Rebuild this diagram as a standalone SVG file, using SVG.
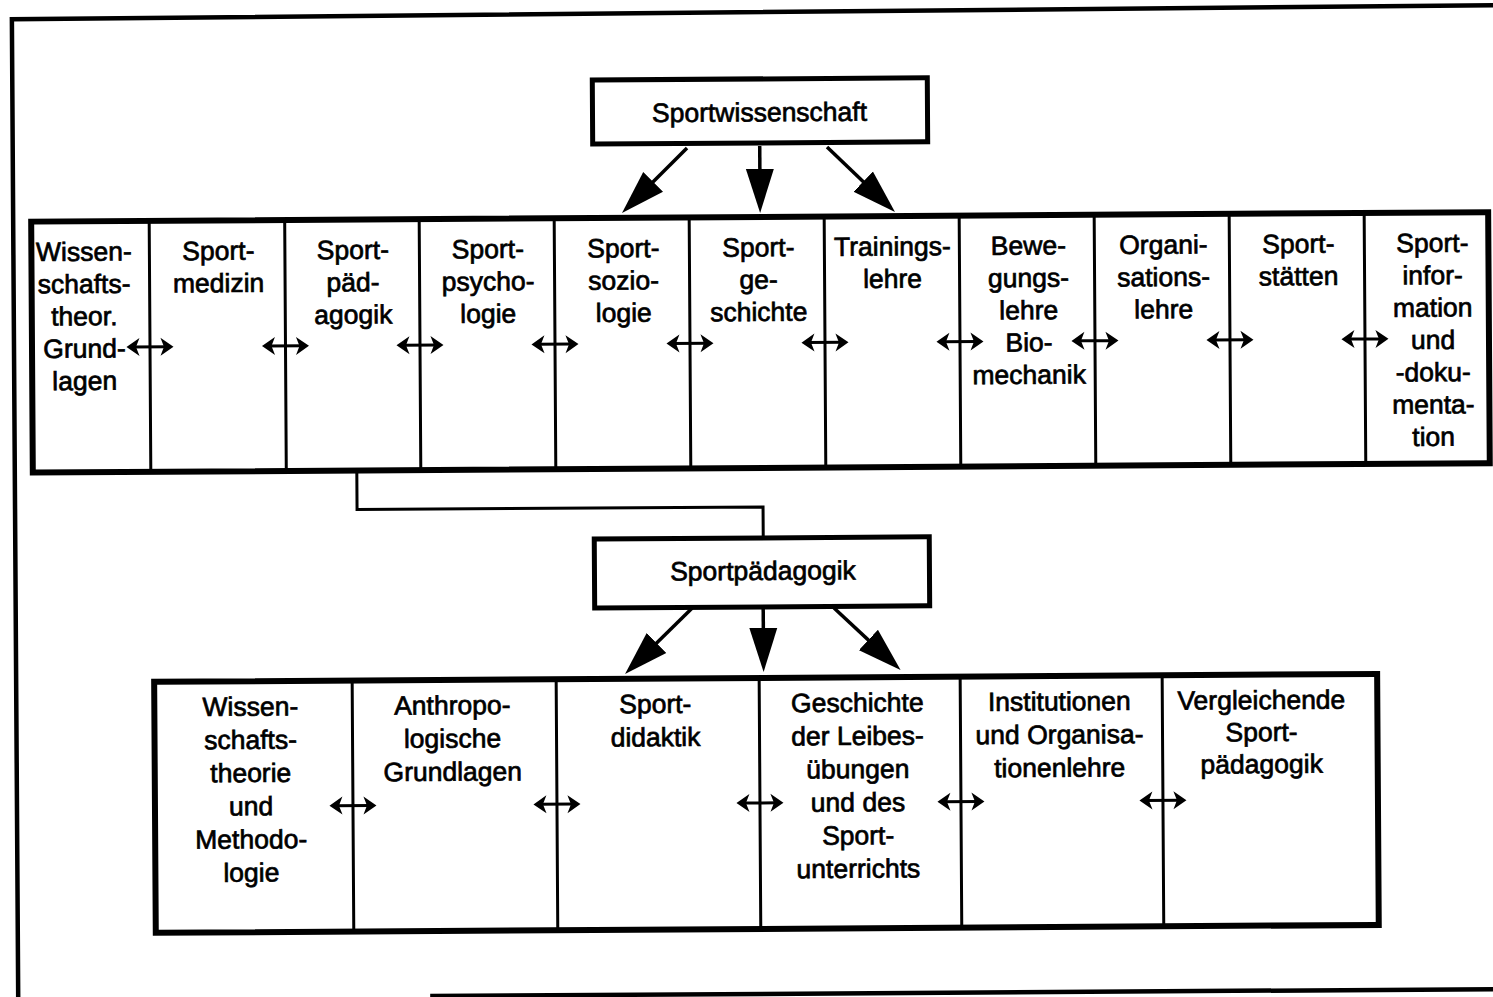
<svg xmlns="http://www.w3.org/2000/svg" width="1493" height="997" viewBox="0 0 1493 997">
  <style>
    text { font-family: "Liberation Sans", Arial, Helvetica, sans-serif; font-size: 26.5px; fill: #000; stroke: #000; stroke-width: 0.7; text-anchor: middle; }
    .frame { fill: none; stroke: #000; stroke-width: 4.5; }
    .outer { fill: #fff; stroke: #000; stroke-width: 6; }
    .box { fill: #fff; stroke: #000; stroke-width: 5; }
    .div { stroke: #000; stroke-width: 3; }
    .conn { fill: none; stroke: #000; stroke-width: 3; }
    .big { fill: none; stroke: #000; stroke-width: 3.5; marker-end: url(#bigHead); }
  </style>
  <defs>
    <marker id="bigHead" markerUnits="userSpaceOnUse" viewBox="0 0 44 30" refX="24" refY="15" markerWidth="44" markerHeight="30" orient="auto">
      <path d="M0,1 L44,15 L0,29 Z" fill="#000"/>
    </marker>
    <g id="dbl">
      <path d="M-18,0 H18" stroke="#000" stroke-width="3"/>
      <path d="M23.5,0 L10.5,-9 L14,0 L10.5,9 Z" fill="#000"/>
      <path d="M-23.5,0 L-10.5,-9 L-14,0 L-10.5,9 Z" fill="#000"/>
    </g>
  </defs>
  <rect width="1493" height="997" fill="#fff"/>
  <g transform="rotate(-0.37 746 500)">
    <g id="frame">
      <path class="frame" d="M1500,10 L15,14.5 L15,1005"/>
      <path class="frame" d="M427,994 H1505"/>
    </g>

    <g id="n-sportwissenschaft">
      <rect class="box" x="595" y="79" width="335" height="64"/>
      <text x="762" y="121.5">Sportwissenschaft</text>
    </g>

    <g id="row1">
      <rect class="outer" x="33" y="217" width="1457" height="251"/>
      <path class="div" d="M151,217V468 M286.5,217V468 M421,217V468 M556,217V468 M691,217V468 M826,217V468 M961,217V468 M1096,217V468 M1231,217V468 M1366,217V468"/>
    </g>
    <g id="n-wissenschaftstheorie"><text x="85.5" y="256.5">Wissen-<tspan x="85.5" dy="32.3">schafts-</tspan><tspan x="85.5" dy="32.3">theor.</tspan><tspan x="85.5" dy="32.3">Grund-</tspan><tspan x="85.5" dy="32.3">lagen</tspan></text></g>
    <g id="n-sportmedizin"><text x="220" y="256.5">Sport-<tspan x="220" dy="32.3">medizin</tspan></text></g>
    <g id="n-sportpaedagogik1"><text x="354.5" y="256.5">Sport-<tspan x="354.5" dy="32.3">päd-</tspan><tspan x="354.5" dy="32.3">agogik</tspan></text></g>
    <g id="n-sportpsychologie"><text x="489.5" y="256.5">Sport-<tspan x="489.5" dy="32.3">psycho-</tspan><tspan x="489.5" dy="32.3">logie</tspan></text></g>
    <g id="n-sportsoziologie"><text x="625" y="256.5">Sport-<tspan x="625" dy="32.3">sozio-</tspan><tspan x="625" dy="32.3">logie</tspan></text></g>
    <g id="n-sportgeschichte"><text x="760" y="256.5">Sport-<tspan x="760" dy="32.3">ge-</tspan><tspan x="760" dy="32.3">schichte</tspan></text></g>
    <g id="n-trainingslehre"><text x="894" y="256.5">Trainings-<tspan x="894" dy="32.3">lehre</tspan></text></g>
    <g id="n-bewegungslehre"><text x="1030" y="256.5">Bewe-<tspan x="1030" dy="32.3">gungs-</tspan><tspan x="1030" dy="32.3">lehre</tspan><tspan x="1030" dy="32.3">Bio-</tspan><tspan x="1030" dy="32.3">mechanik</tspan></text></g>
    <g id="n-organisationslehre"><text x="1165" y="256.5">Organi-<tspan x="1165" dy="32.3">sations-</tspan><tspan x="1165" dy="32.3">lehre</tspan></text></g>
    <g id="n-sportstaetten"><text x="1300" y="256.5">Sport-<tspan x="1300" dy="32.3">stätten</tspan></text></g>
    <g id="n-sportinformation"><text x="1434" y="256.5">Sport-<tspan x="1434" dy="32.3">infor-</tspan><tspan x="1434" dy="32.3">mation</tspan><tspan x="1434" dy="32.3">und</tspan><tspan x="1434" dy="32.3">-doku-</tspan><tspan x="1434" dy="32.3">menta-</tspan><tspan x="1434" dy="32.3">tion</tspan></text></g>

    <g id="n-sportpaedagogik">
      <rect class="box" x="594" y="538" width="335" height="69"/>
      <text x="762.5" y="580">Sportpädagogik</text>
    </g>

    <g id="row2">
      <rect class="outer" x="153" y="678" width="1223" height="251"/>
      <path class="div" d="M351,678V929 M555,678V929 M758,678V929 M959,678V929 M1161,678V929"/>
    </g>
    <g id="n-wissenschaftstheorie-methodologie"><text x="249" y="712.5">Wissen-<tspan x="249" dy="33.2">schafts-</tspan><tspan x="249" dy="33.2">theorie</tspan><tspan x="249" dy="33.2">und</tspan><tspan x="249" dy="33.2">Methodo-</tspan><tspan x="249" dy="33.2">logie</tspan></text></g>
    <g id="n-anthropologische-grundlagen"><text x="451" y="712.5">Anthropo-<tspan x="451" dy="33.2">logische</tspan><tspan x="451" dy="33.2">Grundlagen</tspan></text></g>
    <g id="n-sportdidaktik"><text x="654" y="712.5">Sport-<tspan x="654" dy="33.2">didaktik</tspan></text></g>
    <g id="n-geschichte-leibesuebungen"><text x="856" y="712.5">Geschichte<tspan x="856" dy="33.2">der Leibes-</tspan><tspan x="856" dy="33.2">übungen</tspan><tspan x="856" dy="33.2">und des</tspan><tspan x="856" dy="33.2">Sport-</tspan><tspan x="856" dy="33.2">unterrichts</tspan></text></g>
    <g id="n-institutionen"><text x="1058" y="712.5">Institutionen<tspan x="1058" dy="33.2">und Organisa-</tspan><tspan x="1058" dy="33.2">tionenlehre</tspan></text></g>
    <g id="n-vergleichende"><text x="1260" y="712.5">Vergleichende<tspan x="1260" dy="32">Sport-</tspan><tspan x="1260" dy="32">pädagogik</tspan></text></g>

    <g id="connectors">
      <path class="big" d="M689.3,147.6 L638.1,198.1"/>
      <path class="big" d="M762,146 L762,193"/>
      <path class="big" d="M829.3,147.5 L882.5,199.1"/>
      <path class="conn" d="M357,468 V507 H763 V538"/>
      <path class="big" d="M691.3,608 L638.3,659.2"/>
      <path class="big" d="M762.5,608 L762.5,652"/>
      <path class="big" d="M833.3,608.6 L884.9,657.3"/>
      <use href="#dbl" x="151" y="343"/>
      <use href="#dbl" x="286.5" y="343"/>
      <use href="#dbl" x="421" y="343"/>
      <use href="#dbl" x="556" y="343"/>
      <use href="#dbl" x="691" y="343"/>
      <use href="#dbl" x="826" y="343"/>
      <use href="#dbl" x="961" y="343"/>
      <use href="#dbl" x="1096" y="343"/>
      <use href="#dbl" x="1231" y="343"/>
      <use href="#dbl" x="1366" y="343"/>
      <use href="#dbl" x="351" y="803"/>
      <use href="#dbl" x="555" y="803"/>
      <use href="#dbl" x="758" y="803"/>
      <use href="#dbl" x="959" y="803"/>
      <use href="#dbl" x="1161" y="803"/>
    </g>
  </g>
</svg>
